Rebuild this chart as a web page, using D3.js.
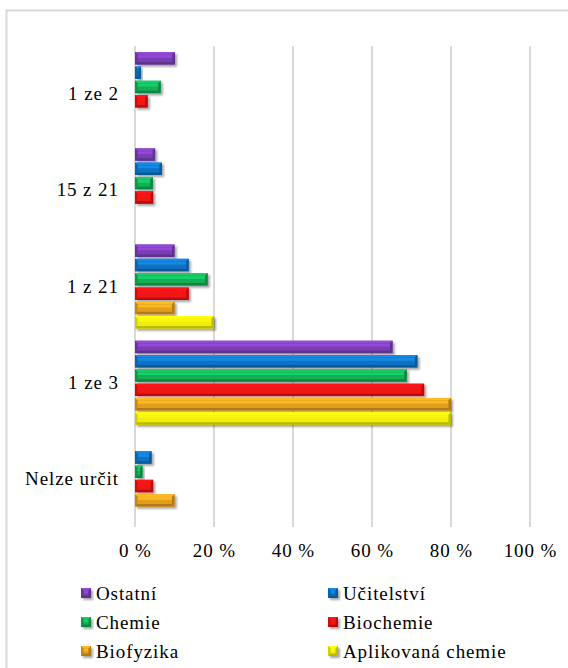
<!DOCTYPE html>
<html><head><meta charset="utf-8">
<script src="https://cdn.jsdelivr.net/npm/d3@7"></script>
<style>html,body{margin:0;padding:0;background:#fff;}svg{display:block;}</style>
</head><body>
<script>
const categories = ["1 ze 2", "15 z 21", "1 z 21", "1 ze 3", "Nelze určit"];
const seriesNames = ["Ostatní", "Učitelství", "Chemie", "Biochemie", "Biofyzika", "Aplikovaná chemie"];
const ostatni    = [10.1, 5.1, 10.0, 65.2, 0];
const ucitelstvi = [1.5, 6.8, 13.6, 71.5, 4.2];
const chemie     = [6.5, 4.5, 18.4, 68.8, 1.9];
const biochemie  = [3.2, 4.6, 13.6, 73.2, 4.6];
const biofyzika  = [0, 0, 10.0, 80.0, 10.0];
const aplikovana = [0, 0, 20.0, 80.0, 0];
const xTicks = [0, 20, 40, 60, 80, 100];
const seriesColors = ["#7a3db3", "#1172c2", "#12ad56", "#ee1414", "#e49c1e", "#f0ee08"];

const seriesValues = [ostatni, ucitelstvi, chemie, biochemie, biofyzika, aplikovana];

const W = 568, H = 668;
const svg = d3.select("body").append("svg").attr("width", W).attr("height", H);
const defs = svg.append("defs");
const f = defs.append("filter").attr("id", "sh").attr("x", "-20%").attr("y", "-50%").attr("width", "150%").attr("height", "250%");
f.append("feDropShadow").attr("dx", 2).attr("dy", 2).attr("stdDeviation", 1.3).attr("flood-color", "#000").attr("flood-opacity", 0.35);

// outer frame
svg.append("rect").attr("x", 6.5).attr("y", 10.5).attr("width", 700).attr("height", 800)
  .attr("fill", "none").attr("stroke", "#d9d9d9").attr("stroke-width", 2);

const x = d3.scaleLinear().domain([0, 100]).range([135, 530]);
const y0 = d3.scaleBand().domain(categories).range([46, 527]).paddingInner(0.127).paddingOuter(0.0635);
const y1 = d3.scaleBand().domain(seriesNames).range([0, y0.bandwidth()]).paddingInner(0.13);

const FS = 19, LS = 0.9;
function label(g, px, py, str, anchor) {
  const dx = anchor === "end" ? LS : (anchor === "middle" ? LS / 2 : 0);
  g.append("text").attr("x", px + dx).attr("y", py)
    .attr("text-anchor", anchor)
    .attr("font-family", "Liberation Serif")
    .attr("letter-spacing", LS)
    .attr("font-size", FS).attr("fill", "#000").text(str);
}

// gridlines
svg.append("g").selectAll("line").data(xTicks).join("line")
  .attr("x1", d => x(d)).attr("x2", d => x(d)).attr("y1", 46).attr("y2", 527)
  .attr("stroke", "#d9d9d9").attr("stroke-width", 2);

// tick labels
const tg = svg.append("g");
xTicks.forEach(t => label(tg, x(t), 557, t + " %", "middle"));

// category labels
const cg = svg.append("g");
categories.forEach(c => label(cg, 118, y0(c) + y0.bandwidth() / 2 + 6, c, "end"));

function bevelBar(g, bx, by, bw, bh, color) {
  const c = d3.color(color);
  const light = c.brighter(0.9).formatHex();
  const hi = c.brighter(0.5).formatHex();
  const dark = c.darker(0.7).formatHex();
  const dark2 = c.darker(0.4).formatHex();
  const b = Math.min(2.5, bw / 2, bh / 2);
  const grp = g.append("g").attr("filter", "url(#sh)");
  grp.append("rect").attr("x", bx).attr("y", by).attr("width", bw).attr("height", bh).attr("fill", color);
  grp.append("rect").attr("x", bx + b).attr("y", by + b + 0.5).attr("width", Math.max(0, bw - 2 * b)).attr("height", Math.max(0, bh * 0.22))
    .attr("fill", light).attr("opacity", 0.55);
  grp.append("polygon").attr("points", [[bx, by], [bx + bw, by], [bx + bw - b, by + b], [bx + b, by + b]].map(p => p.join(",")).join(" ")).attr("fill", hi);
  grp.append("polygon").attr("points", [[bx, by], [bx + b, by + b], [bx + b, by + bh - b], [bx, by + bh]].map(p => p.join(",")).join(" ")).attr("fill", dark2);
  grp.append("polygon").attr("points", [[bx, by + bh], [bx + b, by + bh - b], [bx + bw - b, by + bh - b], [bx + bw, by + bh]].map(p => p.join(",")).join(" ")).attr("fill", dark);
  grp.append("polygon").attr("points", [[bx + bw, by], [bx + bw, by + bh], [bx + bw - b, by + bh - b], [bx + bw - b, by + b]].map(p => p.join(",")).join(" ")).attr("fill", dark);
}

const bg = svg.append("g");
categories.forEach((c, ci) => {
  seriesNames.forEach((s, si) => {
    const v = seriesValues[si][ci];
    if (v <= 0) return;
    bevelBar(bg, x(0), y0(c) + y1(s), x(v) - x(0), y1.bandwidth(), seriesColors[si]);
  });
});

// legend
const lg = svg.append("g");
const legCols = [81, 328];
const legRows = [593, 622, 651];
seriesNames.forEach((s, i) => {
  const lx = legCols[i % 2], ly = legRows[Math.floor(i / 2)];
  bevelBar(lg, lx, ly - 5, 10, 10, seriesColors[i]);
  label(lg, lx + 15, ly + 7, s, "start");
});
</script>
</body></html>
